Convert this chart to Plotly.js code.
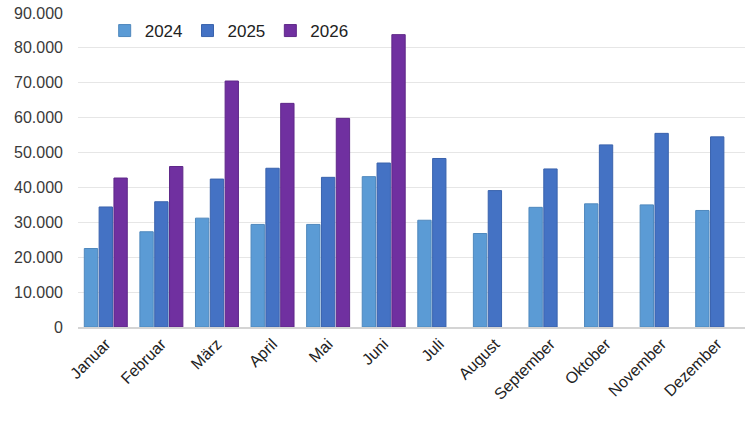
<!DOCTYPE html>
<html>
<head>
<meta charset="utf-8">
<script src="https://cdn.plot.ly/plotly-3.0.1.min.js"></script>
<style>
  html, body { margin: 0; padding: 0; background: #fff; }
  #plot { width: 750px; height: 422px; }
</style>
</head>
<body>
<div id="plot"></div>
<script>
const months = ['Januar', 'Februar', 'März', 'April', 'Mai', 'Juni', 'Juli',
  'August', 'September', 'Oktober', 'November', 'Dezember'];

const values2024 = [22500, 27300, 31200, 29400, 29400, 43100, 30600, 26800, 34300, 35300, 35000, 33400];
const values2025 = [34400, 35900, 42400, 45500, 42900, 47000, 48300, 39100, 45300, 52200, 55500, 54500];
const values2026 = [42700, 46000, 70500, 64100, 59800, 83800, null, null, null, null, null, null];

const yTicks = [0, 10000, 20000, 30000, 40000, 50000, 60000, 70000, 80000, 90000];

function barTrace(name, values, color, edge) {
  return {
    type: 'bar',
    name: name,
    x: months,
    y: values,
    marker: {
      color: color,
      line: { color: edge, width: 1 },
    },
    hoverinfo: 'x+y+name',
  };
}

const traces = [
  barTrace('2024', values2024, '#5b9bd5', '#4f88bd'),
  barTrace('2025', values2025, '#4472c4', '#3a63ad'),
  barTrace('2026', values2026, '#7030a0', '#5f2889'),
];

const layout = {
  width: 750,
  height: 422,
  barmode: 'group',
  bargap: 0.2,
  bargroupgap: 0.1,
  separators: ',.',
  font: { family: '"Liberation Sans", Arial, sans-serif', size: 16, color: '#333' },
  paper_bgcolor: '#fff',
  plot_bgcolor: '#fff',
  margin: { l: 78, r: 5, t: 13, b: 95 },
  showlegend: true,
  legend: {
    orientation: 'h',
    x: 0.04,
    xanchor: 'left',
    y: 1.0,
    yanchor: 'top',
    font: { size: 17, color: '#222' },
    bgcolor: 'rgba(0,0,0,0)',
  },
  xaxis: {
    type: 'category',
    tickangle: -45,
    showgrid: false,
    showline: true,
    linecolor: '#d4d4d4',
    linewidth: 1.5,
    ticks: '',
    tickfont: { size: 16, color: '#222' },
  },
  yaxis: {
    range: [0, 90000],
    tickvals: yTicks,
    tickformat: ',d',
    gridcolor: '#e6e6e6',
    gridwidth: 1,
    zeroline: false,
    showline: false,
    ticks: '',
    ticklabelstandoff: 14,
    tickfont: { size: 16, color: '#3a3a3a' },
  },
};

const config = {
  staticPlot: true,
  displayModeBar: false,
};

Plotly.newPlot('plot', traces, layout, config);
</script>
</body>
</html>
